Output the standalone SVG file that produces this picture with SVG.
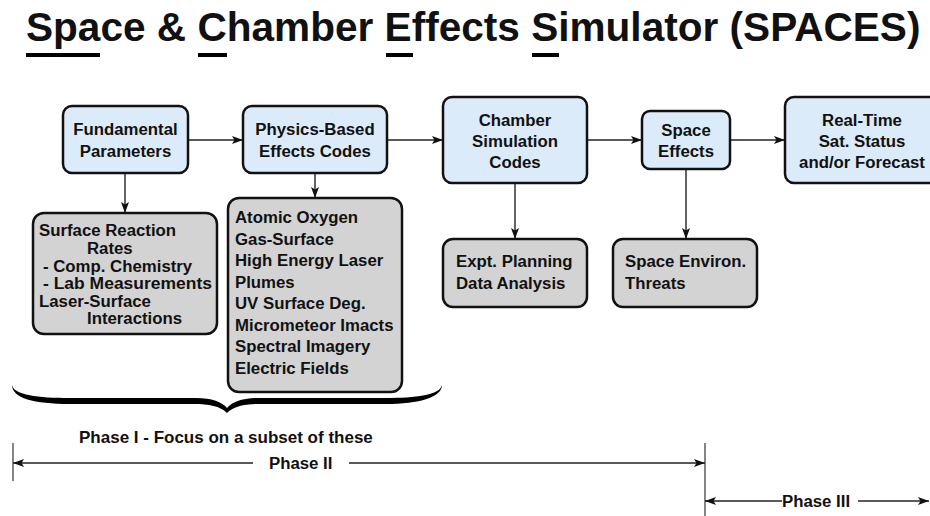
<svg xmlns="http://www.w3.org/2000/svg" width="930" height="516" viewBox="0 0 930 516">
<defs>
<marker id="ah" viewBox="0 0 11 8" refX="11" refY="4" markerWidth="11" markerHeight="8" markerUnits="userSpaceOnUse" orient="auto-start-reverse"><path d="M0,0 L11,4 L0,8 L2.5,4 Z" fill="#111"/></marker>
<style>
text{font-family:"Liberation Sans",Arial,Helvetica,sans-serif;font-weight:bold;fill:#111}
.t{font-size:16.8px}
.c{text-anchor:middle}
.blue{fill:#dcebfa;stroke:#111;stroke-width:2.5}
.gray{fill:#d3d3d3;stroke:#111;stroke-width:2.5}
.ln{stroke:#222;stroke-width:1.4;fill:none}
.tick{stroke:#444;stroke-width:1.3;fill:none}
</style>
</defs>
<rect width="930" height="516" fill="#fff"/>
<g id="title">
<text x="26" y="41" style="font-size:40.6px">Space &amp; Chamber Effects Simulator (SPACES)</text>
<rect x="26" y="53" width="74" height="4" fill="#000"/>
<rect x="198" y="53" width="29" height="4" fill="#000"/>
<rect x="386" y="53" width="27" height="4" fill="#000"/>
<rect x="532" y="53" width="27" height="4" fill="#000"/>
</g>
<g id="connectors">
<line class="ln" x1="188" y1="140" x2="243" y2="140" marker-end="url(#ah)"/>
<line class="ln" x1="387" y1="140" x2="443" y2="140" marker-end="url(#ah)"/>
<line class="ln" x1="587" y1="140" x2="642" y2="140" marker-end="url(#ah)"/>
<line class="ln" x1="730" y1="140" x2="785" y2="140" marker-end="url(#ah)"/>
<line class="ln" x1="125" y1="173" x2="125" y2="213" marker-end="url(#ah)"/>
<line class="ln" x1="315" y1="173" x2="315" y2="198" marker-end="url(#ah)"/>
<line class="ln" x1="515" y1="183" x2="515" y2="239" marker-end="url(#ah)"/>
<line class="ln" x1="686" y1="169" x2="686" y2="239" marker-end="url(#ah)"/>
</g>
<g id="fundamental">
<rect class="blue" x="63" y="106" width="125" height="67" rx="9"/>
<text class="t c" x="125.5" y="135">Fundamental</text>
<text class="t c" x="125.5" y="157">Parameters</text>
</g>
<g id="physics">
<rect class="blue" x="243" y="106" width="144" height="67" rx="9"/>
<text class="t c" x="315" y="135">Physics-Based</text>
<text class="t c" x="315" y="157">Effects Codes</text>
</g>
<g id="chamber">
<rect class="blue" x="443" y="97" width="144" height="86" rx="9"/>
<text class="t c" x="515" y="126">Chamber</text>
<text class="t c" x="515" y="147">Simulation</text>
<text class="t c" x="515" y="168">Codes</text>
</g>
<g id="space-effects">
<rect class="blue" x="642" y="111" width="88" height="58" rx="8"/>
<text class="t c" x="686" y="136">Space</text>
<text class="t c" x="686" y="157">Effects</text>
</g>
<g id="realtime">
<rect class="blue" x="785" y="97" width="155" height="86" rx="9"/>
<text class="t c" x="862" y="126">Real-Time</text>
<text class="t c" x="862" y="147">Sat. Status</text>
<text class="t c" x="862" y="168">and/or Forecast</text>
</g>
<g id="surface">
<rect class="gray" x="33" y="213" width="184" height="121" rx="11"/>
<text class="t" x="39" y="236">Surface Reaction</text>
<text class="t" x="87" y="254">Rates</text>
<text class="t" x="43" y="271.5">- Comp. Chemistry</text>
<text class="t" x="43" y="289" textLength="169" lengthAdjust="spacingAndGlyphs">- Lab Measurements</text>
<text class="t" x="39" y="307">Laser-Surface</text>
<text class="t" x="87" y="324">Interactions</text>
</g>
<g id="effects-list">
<rect class="gray" x="228" y="198" width="174" height="194" rx="11"/>
<text class="t" x="235" y="223">Atomic Oxygen</text>
<text class="t" x="235" y="244.5">Gas-Surface</text>
<text class="t" x="235" y="266">High Energy Laser</text>
<text class="t" x="235" y="287.5">Plumes</text>
<text class="t" x="235" y="309">UV Surface Deg.</text>
<text class="t" x="235" y="330.5">Micrometeor Imacts</text>
<text class="t" x="235" y="352">Spectral Imagery</text>
<text class="t" x="235" y="373.5">Electric Fields</text>
</g>
<g id="expt">
<rect class="gray" x="443" y="239" width="144" height="68" rx="10"/>
<text class="t" x="456" y="267">Expt. Planning</text>
<text class="t" x="456" y="289">Data Analysis</text>
</g>
<g id="threats">
<rect class="gray" x="613" y="239" width="144" height="68" rx="10"/>
<text class="t" x="625" y="267">Space Environ.</text>
<text class="t" x="625" y="289">Threats</text>
</g>
<g id="brace">
<path d="M12,385 C14,395 38,398 70,398 L196,398 C212,398 222,402 227,408 C232,402 242,398 258,398 L385,398 C416,398 440,395 442,385 C442,397 420,404 385,404 L260,404 C245,404 234,406 227,413 C220,406 209,404 194,404 L70,404 C34,404 12,398 12,385 Z" fill="#000"/>
</g>
<g id="phases">
<text x="79" y="443" style="font-size:17px">Phase I - Focus on a subset of these</text>
<line class="tick" x1="13" y1="443" x2="13" y2="481"/>
<line class="tick" x1="705" y1="443" x2="705" y2="516"/>
<line class="ln" x1="253" y1="463" x2="13" y2="463" marker-end="url(#ah)"/>
<text class="t" x="269" y="469">Phase II</text>
<line class="ln" x1="349" y1="463" x2="705" y2="463" marker-end="url(#ah)"/>
<line class="ln" x1="782" y1="501" x2="705" y2="501" marker-end="url(#ah)"/>
<text class="t" x="782" y="507">Phase III</text>
<line class="ln" x1="858" y1="501" x2="929" y2="501" marker-end="url(#ah)"/>
</g>
</svg>
